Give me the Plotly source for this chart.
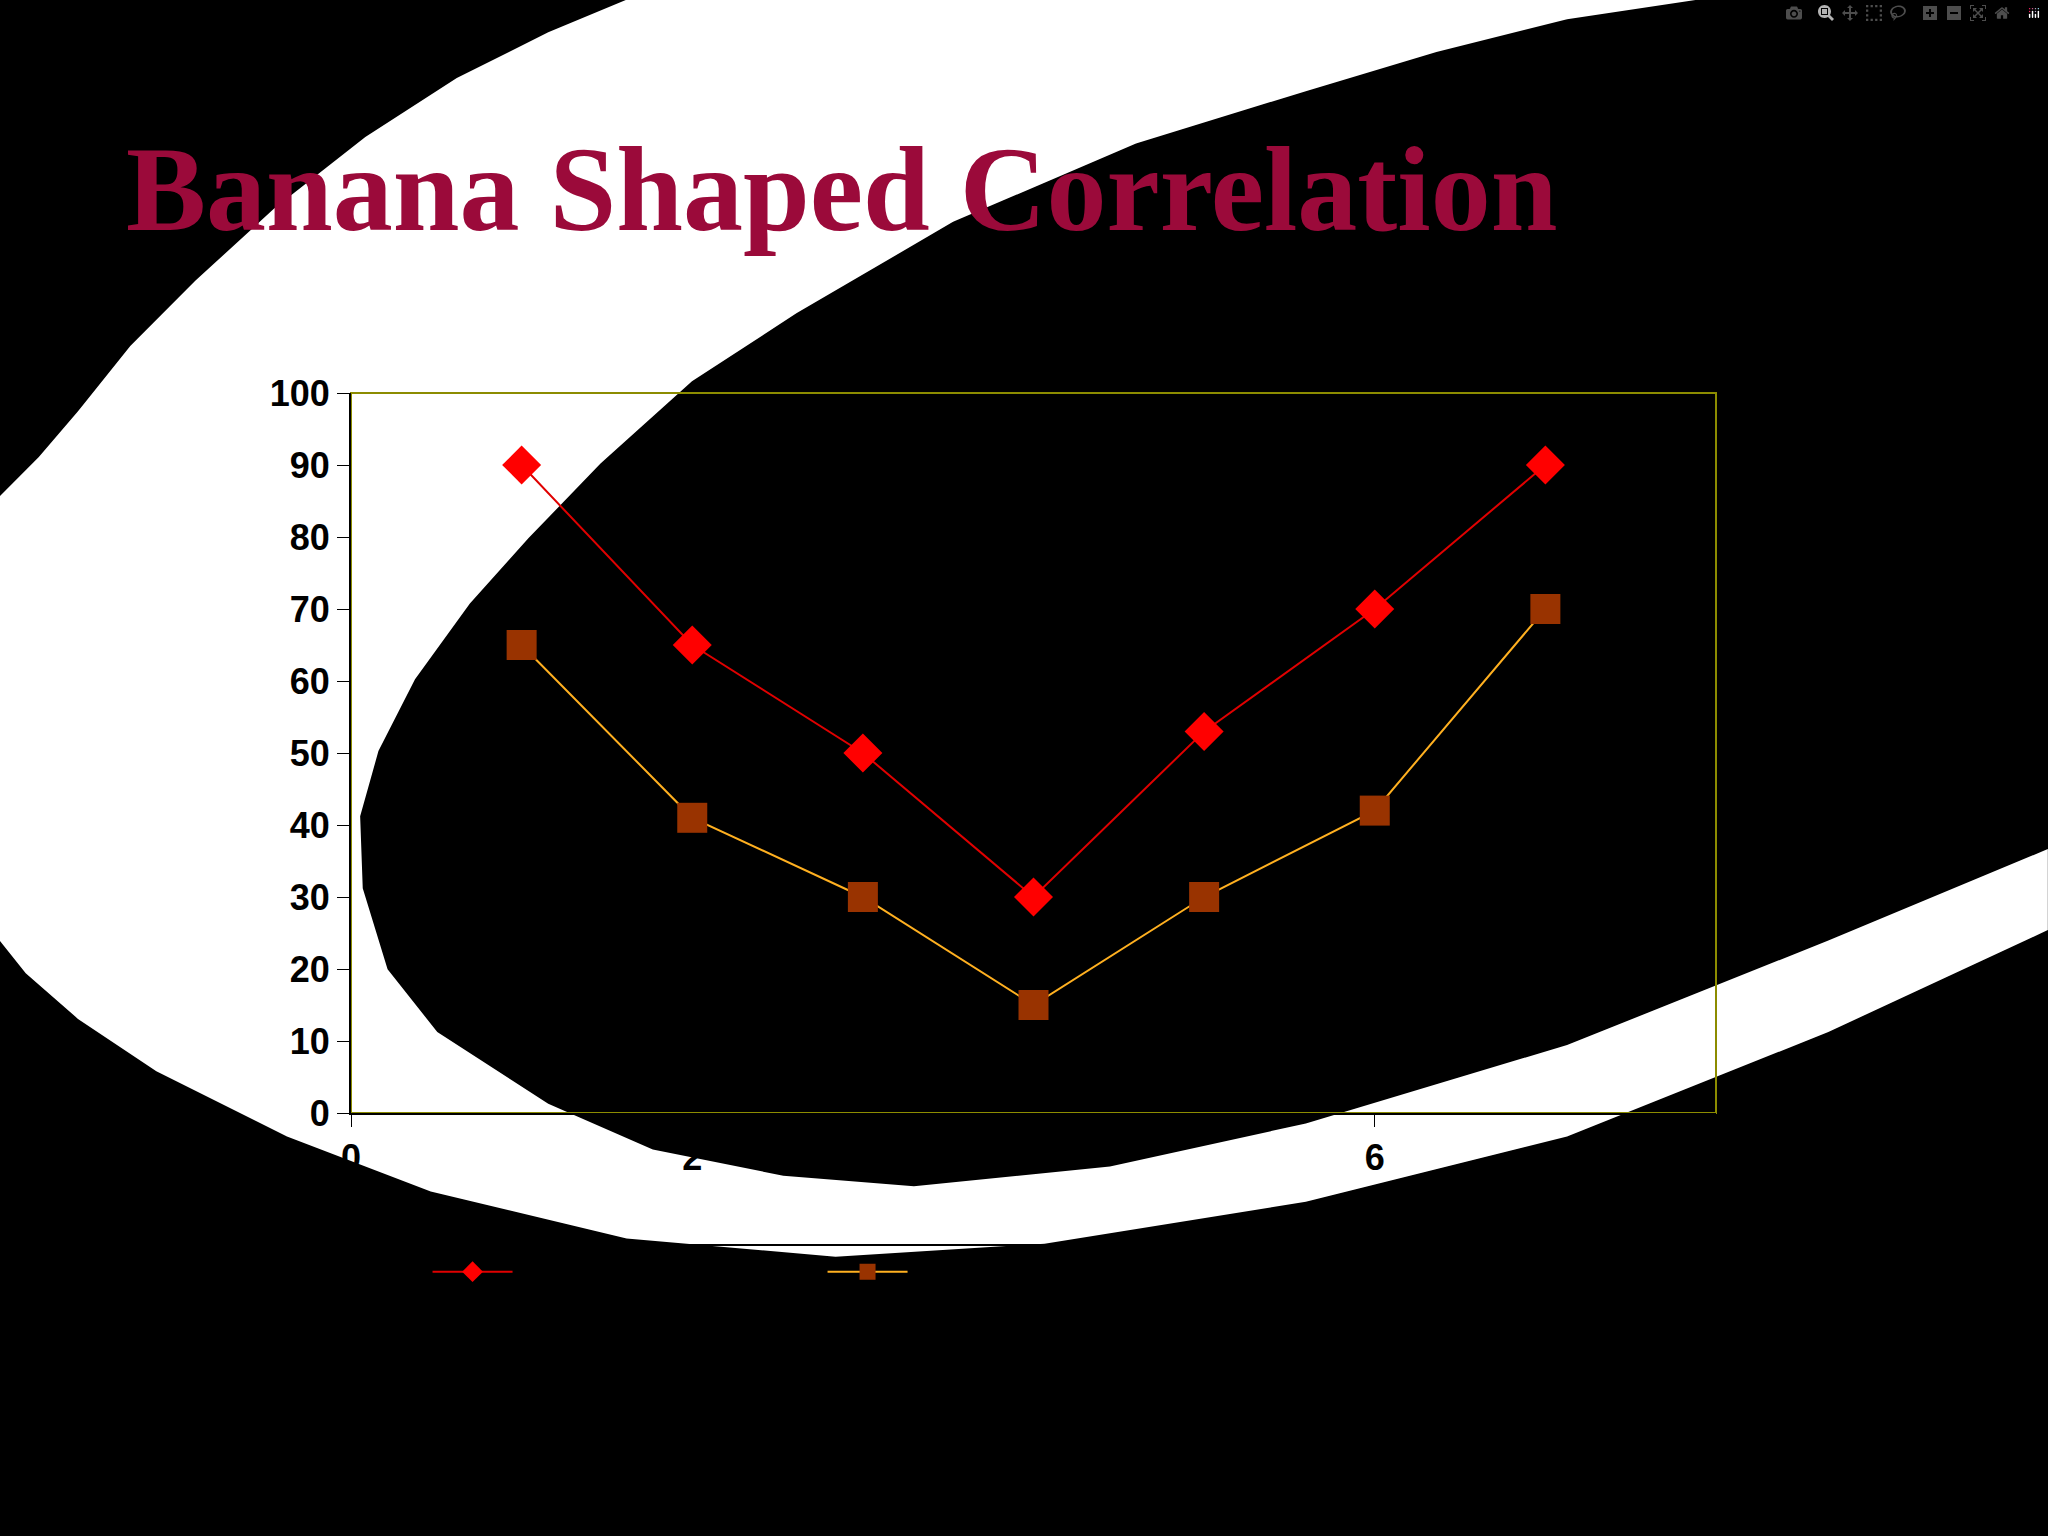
import plotly.graph_objects as go

x_vals = [1, 2, 3, 4, 5, 6, 7]
series1 = [90, 65, 50, 30, 53, 70, 90]
series2 = [65, 41, 30, 15, 30, 42, 70]
series_names = ["Series1", "Series2"]

def P(X, Y):
    return (X - 269) / 1045, (852 - Y) / 551

outer = [(480,0),(420,25),(350,60),(280,105),(210,160),(150,215),(100,265),(60,315),(30,350),(0,380),(0,720),(20,745),(60,780),
         (120,820),(220,870),(330,912),(480,948),(640,962),(800,952),(1000,920),(1200,870),(1400,790),
         (1568,712),(1568,650),(1400,720),(1200,800),(1000,860),(850,893),(700,908),(600,900),(500,880),
         (420,845),(335,790),(297,742),(278,680),(276,625),(290,575),(318,520),(360,462),(405,412),
         (460,355),(530,292),(610,240),(730,170),(870,110),(1000,70),(1100,40),(1200,15),(1300,0)]
path = "M " + " L ".join(f"{P(a,b)[0]:.4f},{P(a,b)[1]:.4f}" for a, b in outer) + " Z"

fig = go.Figure()
fig.add_trace(go.Scatter(x=x_vals, y=series1, name=series_names[0], mode="lines+markers",
                         line=dict(color="#E00000", width=2),
                         marker=dict(symbol="diamond", size=30, color="#FF0000")))
fig.add_trace(go.Scatter(x=x_vals, y=series2, name=series_names[1], mode="lines+markers",
                         line=dict(color="#FFB020", width=2),
                         marker=dict(symbol="square", size=30, color="#993300")))

tf = dict(family="Liberation Sans", size=36, color="black", weight="bold")
fig.update_layout(
    width=2048, height=1536,
    paper_bgcolor="black", plot_bgcolor="rgba(0,0,0,0)",
    margin=dict(l=351, r=332, t=393, b=423),
    shapes=[
        dict(type="path", path=path, xref="paper", yref="paper", fillcolor="white",
             line=dict(width=0), layer="below"),
        dict(type="rect", x0=0, x1=1, y0=0, y1=1, xref="paper", yref="paper",
             line=dict(color="#8C8C00", width=2), layer="below"),
    ],
    annotations=[dict(text="<b>Banana Shaped Correlation</b>", x=P(95, 0)[0], xanchor="left",
                      y=P(0, 145)[1], yanchor="middle", xref="paper", yref="paper", showarrow=False,
                      font=dict(family="Liberation Serif", size=120, color="#9B0A3A"))],
    xaxis=dict(range=[0, 8], tickvals=[0, 2, 4, 6, 8], showgrid=False, zeroline=False,
               showline=True, linecolor="black", linewidth=2, ticks="outside", tickcolor="black",
               ticklen=12, tickfont=tf),
    yaxis=dict(range=[0, 100], dtick=10, showgrid=False, zeroline=False,
               showline=True, linecolor="black", linewidth=2, ticks="outside", tickcolor="black",
               ticklen=12, tickfont=tf),
    legend=dict(orientation="h", x=P(630, 0)[0], xanchor="center", y=P(0, 952)[1], yanchor="top",
                bgcolor="rgba(0,0,0,0)", bordercolor="black", borderwidth=2, itemsizing="trace",
                entrywidth=300, itemwidth=80,
                font=dict(family="Liberation Sans", size=30, color="black")),
)
fig.write_html("out.html", post_script="document.body.style.margin='0';document.body.style.background='black';")
